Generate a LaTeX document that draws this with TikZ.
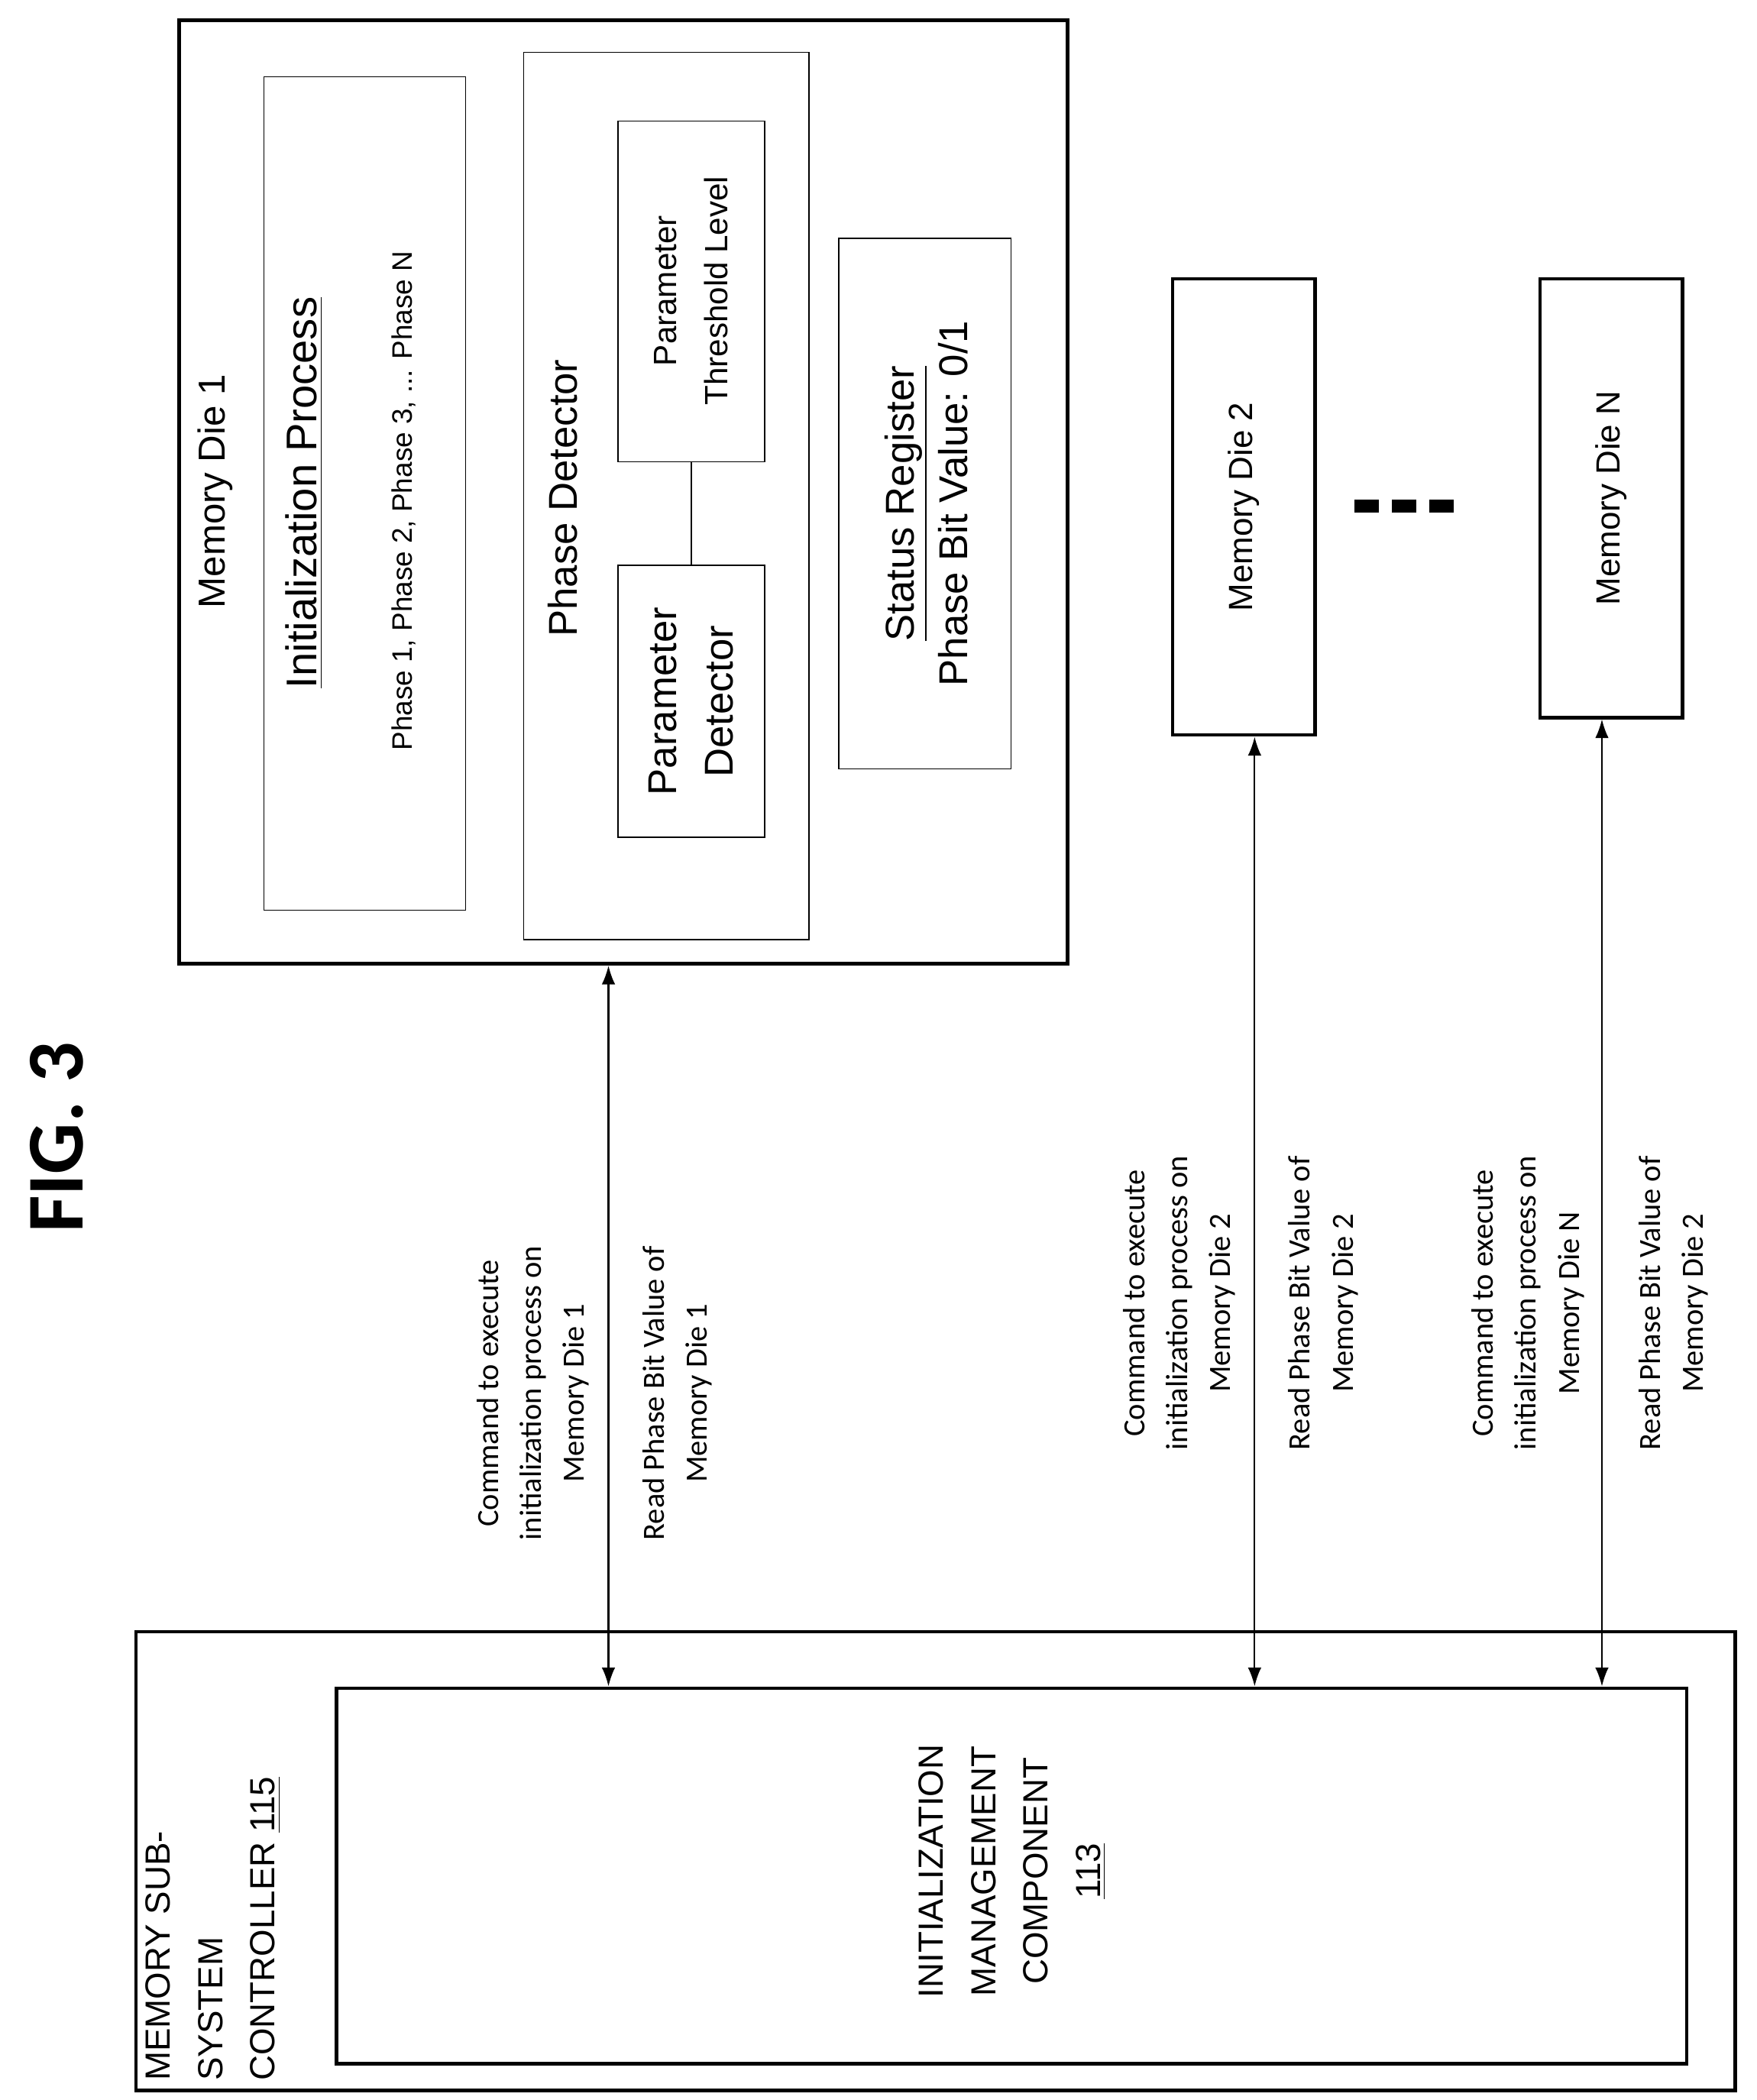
\documentclass[tikz,border=0pt]{standalone}
\usepackage{fontspec}
\setmainfont{Liberation Sans}
\newfontfamily\calib{Carlito}
\usetikzlibrary{arrows.meta}
\begin{document}
\begin{tikzpicture}[x=0.017625cm,y=-0.017625cm,
	thick box/.style={draw,line width=1.3pt,inner sep=0pt},
	thin box/.style={draw,line width=0.4pt,inner sep=0pt},
	txt/.style={rotate=90,align=center,inner sep=0pt},
	note/.style={rotate=90,align=center,inner sep=0pt,font=\calib\fontsize{11.5}{16}\selectfont},
	arr/.style={{Latex[length=7pt,width=5pt]}-{Latex[length=7pt,width=5pt]},line width=0.6pt}]
	\useasboundingbox (0,0) rectangle (1305,1560);
	% title
	\node[txt,font=\calib\bfseries\fontsize{30}{34}\selectfont] (fig) at (42,845) {FIG. 3};
	% memory die 1
	\node[thick box,minimum width=660*0.017625cm,minimum height=701*0.017625cm] (die1) at (463,365.5) {};
	\node[txt,font=\fontsize{14}{16}\selectfont] at (160,365) {Memory Die 1};
	\node[thin box,minimum width=150*0.017625cm,minimum height=619*0.017625cm] (init) at (271,366.5) {};
	\node[txt,font=\fontsize{16}{18}\selectfont] at (226,366) {\underline{Initialization Process}};
	\node[txt,font=\fontsize{10.5}{12}\selectfont] at (300,372) {Phase 1, Phase 2, Phase 3, ... Phase N};
	\node[thin box,minimum width=212*0.017625cm,minimum height=659*0.017625cm] (phdet) at (495,368.5) {};
	\node[txt,font=\fontsize{15}{17}\selectfont] at (418,370) {Phase Detector};
	\node[thin box,minimum width=109*0.017625cm,minimum height=253*0.017625cm] (thr) at (513.5,216.5) {};
	\node[txt,font=\fontsize{12}{19}\selectfont] at (513.5,216) {Parameter\\Threshold Level};
	\node[thin box,minimum width=109*0.017625cm,minimum height=202*0.017625cm] (pdet) at (513.5,521) {};
	\node[txt,font=\fontsize{15}{21}\selectfont] at (513.5,521) {Parameter\\Detector};
	\draw[line width=0.5pt] (thr.south) -- (pdet.north);
	\node[thin box,minimum width=128*0.017625cm,minimum height=394*0.017625cm] (stat) at (687,374) {};
	\node[txt,font=\fontsize{15}{20}\selectfont] at (688,374) {\underline{Status Register}\\Phase Bit Value: 0/1};
	% other dies
	\node[thick box,minimum width=106*0.017625cm,minimum height=339*0.017625cm] (die2) at (924,376.5) {};
	\node[txt,font=\fontsize{12.5}{14}\selectfont] at (die2) {Memory Die 2};
	\node[inner sep=0pt] (dots) at (1043,376) {\rule{9pt}{5pt}\hspace{5pt}\rule{9pt}{5pt}\hspace{5pt}\rule{9pt}{5pt}};
	\node[thick box,minimum width=106*0.017625cm,minimum height=326*0.017625cm] (dieN) at (1197,370) {};
	\node[txt,font=\fontsize{12.5}{14}\selectfont] at (dieN) {Memory Die N};
	% controller
	\node[thick box,minimum width=1188*0.017625cm,minimum height=341*0.017625cm] (ctrl) at (695,1382.5) {};
	\node[txt,align=left,anchor=north west,font=\fontsize{13}{19.5}\selectfont] at (108,1546) {MEMORY SUB-\\SYSTEM\\CONTROLLER \underline{115}};
	\node[thick box,minimum width=1003*0.017625cm,minimum height=279*0.017625cm] (mgmt) at (751.5,1393.5) {};
	\node[txt,font=\fontsize{13}{19.5}\selectfont] at (752,1390) {INITIALIZATION\\MANAGEMENT\\COMPONENT\\\underline{113}};
	% connectors
	\coordinate (c1) at (452,0);
	\coordinate (c2) at (932,0);
	\coordinate (cN) at (1190,0);
	\draw[arr] (die1.south -| c1) -- (mgmt.north -| c1);
	\draw[arr] (die2.south -| c2) -- (mgmt.north -| c2);
	\draw[arr] (dieN.south -| cN) -- (mgmt.north -| cN);
	\node[note] at (396,1035) {Command to execute\\initialization process on\\Memory Die 1};
	\node[note] at (503,1035) {Read Phase Bit Value of\\Memory Die 1};
	\node[note] at (876,968) {Command to execute\\initialization process on\\Memory Die 2};
	\node[note] at (983,968) {Read Phase Bit Value of\\Memory Die 2};
	\node[note] at (1135,968) {Command to execute\\initialization process on\\Memory Die N};
	\node[note] at (1243,968) {Read Phase Bit Value of\\Memory Die 2};
\end{tikzpicture}
\end{document}
